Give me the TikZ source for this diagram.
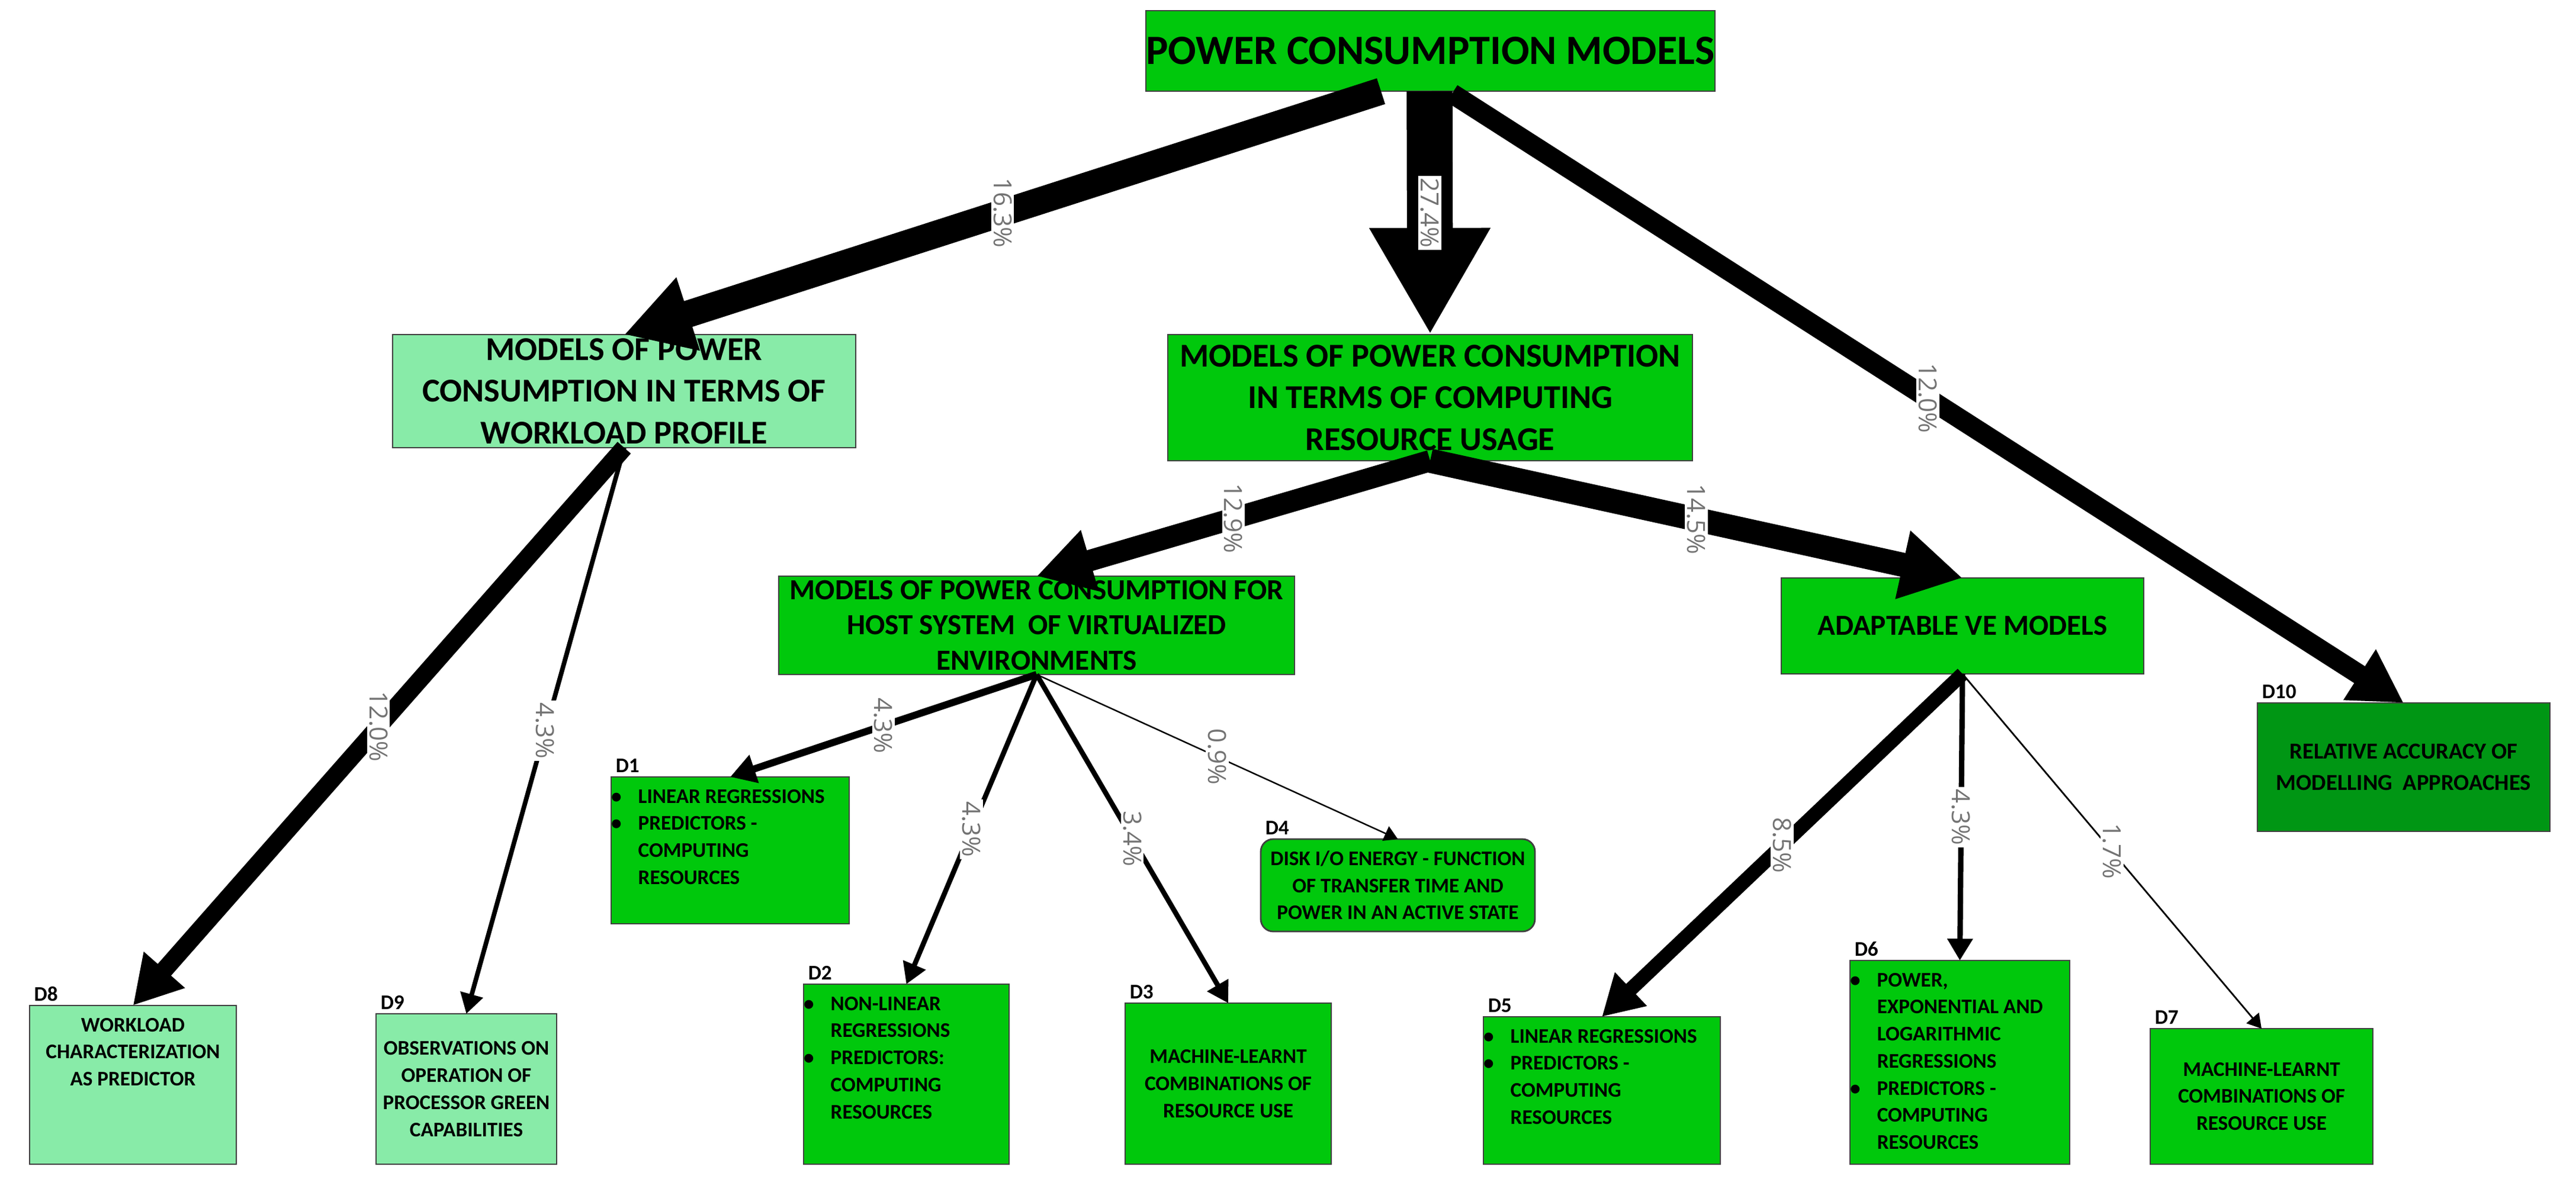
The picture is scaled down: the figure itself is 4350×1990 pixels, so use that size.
\documentclass[tikz,border=0pt]{standalone}
\usepackage{fontspec}
\setmainfont{Carlito}
\newfontfamily\pctfont{Open Sans}
\usetikzlibrary{arrows.meta}
\definecolor{bgreen}{RGB}{0,200,12}
\definecolor{lgreen}{RGB}{136,235,168}
\definecolor{dgreen}{RGB}{0,150,20}
\newcommand\bul{\makebox[1.3em][l]{\textbullet}}
\newcommand\ind{\hspace*{1.3em}}
% \mybox{name}{x1}{y1}{x2}{y2}{style}{valign}{content}
\newcommand\mybox[8]{%
  \pgfmathsetmacro\cx{(#2+#4)/2}\pgfmathsetmacro\cy{(#3+#5)/2}%
  \pgfmathsetmacro\bw{(#4-#2)*0.01}\pgfmathsetmacro\bh{(#5-#3)*0.01}%
  \pgfmathsetmacro\tw{(#4-#2)*0.01-0.5}%
  \node[box,#6] (#1) at (\cx,\cy) {\parbox[c][\bh cm][#7]{\tw cm}{#8}};}
\begin{document}
\begin{tikzpicture}[x=0.01cm,y=-0.01cm,
  box/.style={draw=black!75,line width=0.8pt,inner sep=0pt,outer sep=0pt,fill=bgreen,font=\bfseries},
  ar/.style={line width=#1,-{Triangle[length=5pt 2.1,width=6pt 2.2]}},
  pct/.style={rotate=-90,fill=white,inner sep=1pt,text=black!55,font=\pctfont\fontsize{12}{14}\selectfont,pos=0.5,sloped=false},
  dl/.style={font=\bfseries\fontsize{10}{12}\selectfont,inner sep=2pt,anchor=south west}]
\useasboundingbox (0,0) rectangle (4350,1990);
\mybox{root}{1910}{18}{2921}{154}{font=\bfseries\fontsize{20}{24}\selectfont}{c}{\centering POWER CONSUMPTION MODELS}
\mybox{wl}{638}{565}{1470}{756}{fill=lgreen,font=\bfseries\fontsize{16}{20}\selectfont}{c}{\centering MODELS OF POWER\\CONSUMPTION IN TERMS OF\\WORKLOAD PROFILE}
\mybox{cr}{1947}{565}{2883}{778}{font=\bfseries\fontsize{16}{20}\selectfont}{c}{\centering MODELS OF POWER CONSUMPTION\\IN TERMS OF COMPUTING\\RESOURCE USAGE}
\mybox{host}{1290}{973}{2211}{1139}{font=\bfseries\fontsize{14}{17}\selectfont}{c}{\centering MODELS OF POWER CONSUMPTION FOR\\HOST SYSTEM\ \ OF VIRTUALIZED\\ENVIRONMENTS}
\mybox{ad}{2983}{976}{3645}{1138}{font=\bfseries\fontsize{14}{17}\selectfont}{c}{\centering ADAPTABLE VE MODELS}
\mybox{d10}{3787}{1187}{4331}{1404}{fill=dgreen,font=\bfseries\fontsize{11}{15}\selectfont}{c}{\centering RELATIVE ACCURACY OF\\MODELLING\ \ APPROACHES}
\mybox{d1}{1007}{1312}{1459}{1560}{font=\bfseries\fontsize{10}{13}\selectfont}{t}{\vspace{6pt}\bul LINEAR REGRESSIONS\\\bul PREDICTORS -\\\ind COMPUTING\\\ind RESOURCES}
\mybox{d4}{2104}{1417}{2617}{1573}{rounded corners=6pt,font=\bfseries\fontsize{10}{13}\selectfont}{c}{\centering DISK I/O ENERGY - FUNCTION\\OF TRANSFER TIME AND\\POWER IN AN ACTIVE STATE}
\mybox{d8}{25}{1698}{424}{1966}{fill=lgreen,font=\bfseries\fontsize{10}{13}\selectfont}{t}{\centering\vspace{6pt}WORKLOAD\\CHARACTERIZATION\\AS PREDICTOR}
\mybox{d9}{610}{1712}{965}{1966}{fill=lgreen,font=\bfseries\fontsize{10}{13}\selectfont}{c}{\centering OBSERVATIONS ON\\OPERATION OF\\PROCESSOR GREEN\\CAPABILITIES}
\mybox{d2}{1332}{1662}{1729}{1966}{font=\bfseries\fontsize{10}{13}\selectfont}{t}{\vspace{6pt}\bul NON-LINEAR\\\ind REGRESSIONS\\\bul PREDICTORS:\\\ind COMPUTING\\\ind RESOURCES}
\mybox{d3}{1875}{1694}{2273}{1966}{font=\bfseries\fontsize{10}{13}\selectfont}{c}{\centering MACHINE-LEARNT\\COMBINATIONS OF\\RESOURCE USE}
\mybox{d5}{2480}{1717}{2930}{1966}{font=\bfseries\fontsize{10}{13}\selectfont}{t}{\vspace{6pt}\bul LINEAR REGRESSIONS\\\bul PREDICTORS -\\\ind COMPUTING\\\ind RESOURCES}
\mybox{d6}{3099}{1622}{3520}{1966}{font=\bfseries\fontsize{10}{13}\selectfont}{t}{\vspace{6pt}\bul POWER,\\\ind EXPONENTIAL AND\\\ind LOGARITHMIC\\\ind REGRESSIONS\\\bul PREDICTORS -\\\ind COMPUTING\\\ind RESOURCES}
\mybox{d7}{3606}{1737}{4032}{1966}{font=\bfseries\fontsize{10}{13}\selectfont}{c}{\centering MACHINE-LEARNT\\COMBINATIONS OF\\RESOURCE USE}
\foreach \n/\t in {d1/D1,d2/D2,d3/D3,d4/D4,d5/D5,d6/D6,d7/D7,d8/D8,d9/D9,d10/D10}
  \node[dl] (l\n) at (\n.north west) {\t};
\coordinate (r1) at (2332,154);
\coordinate (r2) at (2414,154);
\coordinate (r3) at (2452,158);
\draw[ar=13pt] (r1) -- (wl.north) node[pct] {16.3\%};
\draw[ar=22pt] (r2) -- (cr.north) node[pct] {27.4\%};
\draw[ar=9.6pt] (r3) -- (d10.north) node[pct] {12.0\%};
\draw[ar=10.3pt] (cr.south) -- (host.north) node[pct] {12.9\%};
\draw[ar=11.6pt] (cr.south) -- (ad.north) node[pct] {14.5\%};
\draw[ar=8.5pt] (wl.south) -- (d8.north) node[pct] {12.0\%};
\draw[ar=2.2pt] (wl.south) -- (d9.north) node[pct] {4.3\%};
\draw[ar=3.4pt] (host.south) -- (d1.north) node[pct] {4.3\%};
\draw[ar=2.4pt] (host.south) -- (d2.north) node[pct] {4.3\%};
\draw[ar=2.4pt] (host.south) -- (d3.north) node[pct] {3.4\%};
\draw[ar=0.7pt] (host.south) -- (d4.north) node[pct] {0.9\%};
\draw[ar=6.8pt] (ad.south) -- (d5.north) node[pct] {8.5\%};
\draw[ar=2.6pt] (ad.south) -- (d6.north) node[pct] {4.3\%};
\draw[ar=0.8pt] (ad.south) -- (d7.north) node[pct] {1.7\%};
\end{tikzpicture}
\end{document}
